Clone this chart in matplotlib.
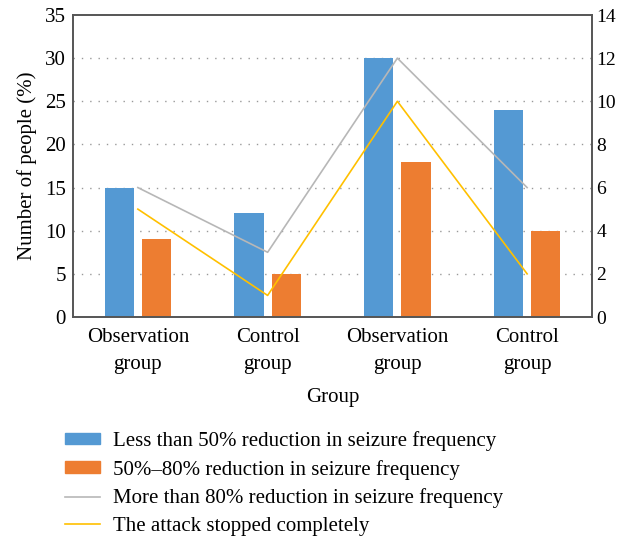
import matplotlib
matplotlib.use("Agg")
import matplotlib.pyplot as plt
import numpy as np
from matplotlib.lines import Line2D
from matplotlib.patches import Patch

plt.rcParams['font.family'] = ['Liberation Serif', 'DejaVu Serif']

categories = ["Observation\ngroup", "Control\ngroup", "Observation\ngroup", "Control\ngroup"]
less50 = [15, 12, 30, 24]
red50_80 = [9, 5, 18, 10]
more80 = [6, 3, 12, 6]
stopped = [5, 1, 10, 2]

labels = ["Less than 50% reduction in seizure frequency",
          "50%\u201380% reduction in seizure frequency",
          "More than 80% reduction in seizure frequency",
          "The attack stopped completely"]
c_blue = "#5499D3"
c_orange = "#ED7D31"
c_gray = "#B7B7B7"
c_yellow = "#FFC000"

fs = 15
fig = plt.figure(figsize=(6.18, 5.37), dpi=100)
ax = fig.add_axes([73/618, 1-317/537, (592-73)/618, (317-15)/537])
x = np.arange(len(categories))
w = 0.227
ax.bar(x - 0.03 - w/2, less50, width=w, color=c_blue, zorder=2)
ax.bar(x + 0.03 + w/2, red50_80, width=w, color=c_orange, zorder=2)
ax.set_xlim(-0.5, 3.5)
ax.set_ylim(0, 35)
ax.set_yticks(range(0, 36, 5))
ax.set_xticks(x)
ax.set_xticklabels(categories, fontsize=fs, linespacing=1.55)
ax.tick_params(axis='y', length=0, labelsize=fs, pad=5)
ax.tick_params(axis='x', length=0, labelsize=fs, pad=8)
ax.set_ylabel("Number of people (%)", fontsize=fs, labelpad=6)
ax.set_xlabel("Group", fontsize=fs, labelpad=10)
for yv in range(5, 35, 5):
    ax.axhline(yv, color="#999999", linestyle=(0, (1, 5)), linewidth=1.0, zorder=1)
for s in ax.spines.values():
    s.set_color("#555555")
    s.set_linewidth(1.2)

ax2 = ax.twinx()
ax2.plot(x, more80, color=c_gray, linewidth=1.2, zorder=3)
ax2.plot(x, stopped, color=c_yellow, linewidth=1.2, zorder=3)
ax2.set_ylim(0, 14)
ax2.set_yticks(range(0, 15, 2))
ax2.tick_params(axis='y', length=0, labelsize=14, pad=3)
for s in ax2.spines.values():
    s.set_color("#555555")
    s.set_linewidth(1.2)

handles = [Patch(color=c_blue), Patch(color=c_orange),
           Line2D([], [], color=c_gray, linewidth=1.2),
           Line2D([], [], color=c_yellow, linewidth=1.2)]
fig.legend(handles, labels, loc='upper left', bbox_to_anchor=(65/618, 1-431/537),
           frameon=False, fontsize=15, handlelength=1.7, handleheight=0.5,
           labelspacing=0.42, handletextpad=0.6, borderaxespad=0, borderpad=0)

fig.savefig("out.png", dpi=100)
